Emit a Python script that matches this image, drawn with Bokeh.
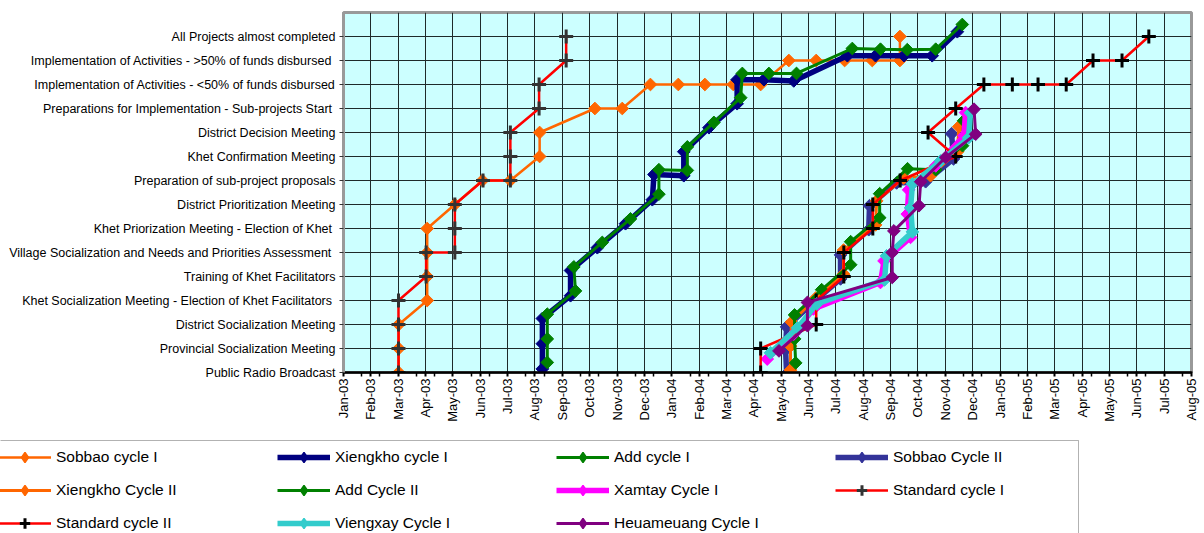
import numpy as np
from bokeh.plotting import figure
from bokeh.layouts import column, row
from bokeh.models import FixedTicker, Legend, LegendItem, Range1d, BoxAnnotation
from bokeh.embed import file_html
from bokeh.resources import INLINE

# ---------------- data ----------------
month_labels = ["Jan-03", "Feb-03", "Mar-03", "Apr-03", "May-03", "Jun-03", "Jul-03", "Aug-03",
                "Sep-03", "Oct-03", "Nov-03", "Dec-03", "Jan-04", "Feb-04", "Mar-04", "Apr-04",
                "May-04", "Jun-04", "Jul-04", "Aug-04", "Sep-04", "Oct-04", "Nov-04", "Dec-04",
                "Jan-05", "Feb-05", "Mar-05", "Apr-05", "May-05", "Jun-05", "Jul-05", "Aug-05"]

stages = ["Public Radio Broadcast",
          "Provincial Socialization Meeting",
          "District Socialization Meeting",
          "Khet Socialization Meeting - Election of Khet Facilitators ",
          "Training of Khet Facilitators",
          "Village  Socialization and Needs and Priorities Assessment",
          "Khet Priorization Meeting - Election of Khet ",
          "District Prioritization Meeting",
          "Preparation of sub-project proposals",
          "Khet Confirmation Meeting",
          "District Decision Meeting",
          "Preparations for Implementation  - Sub-projects Start",
          "Implementation of Activities - <50% of funds disbursed",
          "Implementation of Activities - >50% of funds disbursed ",
          "All Projects almost completed"]

# x = months since Jan-03, y = stage index
sobbao1_x = [2.02, 2.02, 2.02, 3.06, 3.06, 3.06, 3.06, 4.07, 5.08, 6.1, 7.17, 7.17, 9.19, 10.19,
             11.22, 12.24, 13.21, 14.25, 15.25, 16.28, 17.28, 18.32, 19.33, 20.34, 20.34]
sobbao1_y = [0, 1, 2, 3, 4, 5, 6, 7, 8, 8, 9, 10, 11, 11, 12, 12, 12, 12, 12, 13, 13, 13, 13, 13, 14]

xiengkho1_x = [7.27, 7.27, 7.27, 8.3, 8.3, 9.28, 10.31, 11.29, 11.35, 12.44, 12.44, 13.36, 14.39,
               14.39, 15.37, 16.46, 18.42, 19.45, 20.49, 21.52, 22.44]
xiengkho1_y = [0.15, 1.2, 2.25, 3.2, 4.25, 5.2, 6.2, 7.2, 8.25, 8.2, 9.2, 10.2, 11.2, 12.2, 12.2,
               12.15, 13.2, 13.2, 13.2, 13.2, 14.2]

add1_x = [7.45, 7.45, 7.45, 8.48, 8.42, 9.46, 10.49, 11.53, 11.53, 12.57, 12.57, 13.54, 14.52,
          14.58, 15.55, 16.56, 18.6, 19.63, 20.61, 21.65, 22.62]
add1_y = [0.42, 1.4, 2.43, 3.4, 4.4, 5.42, 6.4, 7.43, 8.45, 8.42, 9.4, 10.42, 11.45, 12.46, 12.46,
          12.46, 13.5, 13.47, 13.45, 13.47, 14.5]

sobbao2_x = [16.2, 16.16, 16.2, 17.15, 18.17, 18.17, 19.2, 19.23, 20.22, 21.28, 22.3, 22.23]
sobbao2_y = [-0.05, 0.95, 1.9, 2.9, 3.9, 4.9, 5.95, 6.95, 7.9, 7.95, 8.9, 9.95]

xiengkho2_x = [16.34, 16.34, 16.38, 17.26, 18.28, 18.28, 19.45, 19.49, 20.48, 21.46, 22.45, 22.49]
xiengkho2_y = [0.1, 1.1, 2.1, 3.1, 4.1, 5.1, 6.15, 7.15, 8.1, 8.2, 9.2, 10.24]

add2_x = [16.53, 16.49, 16.49, 17.48, 18.54, 18.54, 19.6, 19.6, 20.62, 21.65, 22.63, 22.67]
add2_y = [0.4, 1.4, 2.4, 3.45, 4.49, 5.45, 6.45, 7.45, 8.49, 8.45, 9.45, 10.49]

xamtay1_x = [15.49, 16.46, 17.18, 19.63, 19.76, 20.73, 20.61, 20.66, 21.65, 22.68, 22.74]
xamtay1_y = [0.56, 1.6, 2.65, 3.75, 4.65, 5.63, 6.6, 7.61, 8.61, 9.86, 10.83]

standard1_x = [2.01, 2.01, 2.01, 2.01, 3.02, 3.02, 4.07, 4.07, 4.07, 5.1, 6.1, 6.1, 6.1, 7.15,
               7.15, 8.14, 8.14]
standard1_y = [0, 1, 2, 3, 4, 5, 5, 6, 7, 8, 8, 9, 10, 11, 12, 13, 14]

standard2_x = [15.25, 15.25, 17.28, 17.28, 18.29, 18.29, 19.35, 19.35, 20.35, 22.38, 21.37, 22.38,
               23.41, 24.45, 25.39, 26.42, 27.4, 28.46, 29.44]
standard2_y = [0, 1, 2, 3, 4, 5, 6, 7, 8, 9, 10, 11, 12, 12, 12, 12, 13, 13, 14]

viengxay1_x = [15.61, 16.6, 17.3, 19.78, 19.85, 20.8, 20.73, 20.8, 21.83, 22.85, 22.92]
viengxay1_y = [0.82, 1.86, 2.86, 3.86, 4.86, 5.86, 6.86, 7.86, 8.82, 9.78, 10.82]

heuameuang1_x = [15.92, 16.96, 16.96, 20.06, 20.06, 20.12, 21.04, 21.1, 22.01, 23.11, 23.05]
heuameuang1_y = [0.9, 1.95, 2.92, 3.96, 5.0, 5.9, 6.95, 7.95, 8.96, 9.93, 10.97]

series = [
    ("Sobbao cycle I", sobbao1_x, sobbao1_y, "#FF6600", 2.5, "diamond", "#FF6600"),
    ("Xiengkho cycle I", xiengkho1_x, xiengkho1_y, "#000080", 5.5, "diamond", "#000080"),
    ("Add cycle I", add1_x, add1_y, "#008000", 3, "diamond", "#008000"),
    ("Sobbao Cycle II", sobbao2_x, sobbao2_y, "#333399", 5.5, "diamond", "#333399"),
    ("Xiengkho Cycle II", xiengkho2_x, xiengkho2_y, "#FF6600", 3, "diamond", "#FF6600"),
    ("Add Cycle II", add2_x, add2_y, "#008000", 3, "diamond", "#008000"),
    ("Xamtay Cycle I", xamtay1_x, xamtay1_y, "#FF00FF", 5.5, "diamond", "#FF00FF"),
    ("Standard cycle I", standard1_x, standard1_y, "#FF0000", 2.5, "cross", "#333333"),
    ("Standard cycle II", standard2_x, standard2_y, "#FF0000", 2.5, "cross", "#000000"),
    ("Viengxay Cycle I", viengxay1_x, viengxay1_y, "#33CCCC", 5.5, "diamond", "#33CCCC"),
    ("Heuameuang Cycle I", heuameuang1_x, heuameuang1_y, "#800080", 3, "diamond", "#800080"),
]

FONT = "Liberation Sans"


def draw_series(fig, xs, ys, col, lw, marker, mcol, for_legend=False):
    r1 = fig.line(xs, ys, line_color=col, line_width=lw)
    if marker == "cross":
        r2 = fig.scatter(xs, ys, marker="cross", size=14, line_color=mcol, line_width=3)
    elif for_legend:
        r2 = fig.scatter(xs, ys, marker="diamond", size=12,
                         fill_color=mcol, line_color=mcol, line_width=1.5)
    else:
        r2 = fig.scatter(xs, ys, marker="square", angle=np.pi / 4, size=9,
                         fill_color=mcol, line_color=mcol, line_width=1)
    return r1, r2


# ---------------- main chart ----------------
p = figure(width=1200, height=436, output_backend="svg", toolbar_location=None,
           x_range=Range1d(0, 31), y_range=Range1d(0, 15),
           min_border_left=343, min_border_right=9, min_border_top=12, min_border_bottom=64)

p.background_fill_color = "#CCFFFF"
p.border_fill_color = "white"
p.outline_line_color = "#999999"
p.outline_line_width = 3

p.xaxis.ticker = FixedTicker(ticks=list(range(len(month_labels))),
                             minor_ticks=[m + d for m in range(1, len(month_labels), 2) for d in (-0.33, 0.33)])
p.xaxis.major_label_overrides = {i: lab for i, lab in enumerate(month_labels)}
p.xaxis.major_label_orientation = np.pi / 2
p.xaxis.major_label_text_font = FONT
p.xaxis.major_label_text_font_size = "13px"
p.xaxis.major_label_text_color = "black"
p.xaxis.major_label_standoff = 2
p.xaxis.axis_line_color = "black"
p.xaxis.axis_line_width = 2.5
p.xaxis.major_tick_line_color = "black"
p.xaxis.major_tick_line_width = 2
p.xaxis.major_tick_out = 4
p.xaxis.major_tick_in = 1
p.xaxis.minor_tick_line_color = "black"
p.xaxis.minor_tick_line_width = 1.5
p.xaxis.minor_tick_out = 4
p.xaxis.minor_tick_in = 0

p.yaxis.ticker = FixedTicker(ticks=list(range(len(stages))))
p.yaxis.major_label_overrides = {i: lab for i, lab in enumerate(stages)}
p.yaxis.major_label_text_font = FONT
p.yaxis.major_label_text_font_size = "12.5px"
p.yaxis.major_label_text_color = "black"
p.yaxis.major_label_standoff = 4
p.yaxis.axis_line_color = "#999999"
p.yaxis.axis_line_width = 3
p.yaxis.major_tick_line_color = "#333333"
p.yaxis.major_tick_out = 4
p.yaxis.major_tick_in = 0
p.yaxis.minor_tick_line_color = None

p.xgrid.grid_line_color = "#1e2a2a"
p.xgrid.grid_line_width = 1
p.ygrid.grid_line_color = "#1e2a2a"
p.ygrid.grid_line_width = 1

for name, xs, ys, col, lw, marker, mcol in series:
    draw_series(p, xs, ys, col, lw, marker, mcol)

# ---------------- legend strip (same series, legend only; ranges keep marks out of view) ----------------
leg = figure(width=1200, height=97, output_backend="svg", toolbar_location=None,
             x_axis_type=None, y_axis_type=None,
             x_range=Range1d(-200, -199), y_range=Range1d(-200, -199),
             min_border=0, min_border_left=0, min_border_right=0,
             min_border_top=0, min_border_bottom=0)
leg.outline_line_color = None
leg.background_fill_color = "white"
leg.border_fill_color = "white"
leg.grid.visible = False

items = []
for name, xs, ys, col, lw, marker, mcol in series:
    r1, r2 = draw_series(leg, xs, ys, col, lw, marker, mcol, for_legend=True)
    items.append(LegendItem(label=name, renderers=[r1, r2]))

# legend frame (box) drawn separately so its size matches the original
leg.add_layout(BoxAnnotation(left=-10, right=1078, top=4, bottom=300,
                             left_units="canvas", right_units="canvas",
                             top_units="canvas", bottom_units="canvas",
                             fill_color=None, fill_alpha=0,
                             line_color="black", line_width=1))

legend = Legend(items=items, orientation="horizontal", ncols=4,
                location=(-2, -3), margin=0,
                glyph_width=53, glyph_height=26, label_height=26, label_width=214,
                label_standoff=5, spacing=7, padding=3,
                label_text_font=FONT, label_text_font_size="15.5px", label_text_color="black",
                border_line_color=None, background_fill_alpha=0)
leg.add_layout(legend, "center")

layout = column(p, row(leg), spacing=0)
open("out.html", "w").write(file_html(layout, INLINE))
